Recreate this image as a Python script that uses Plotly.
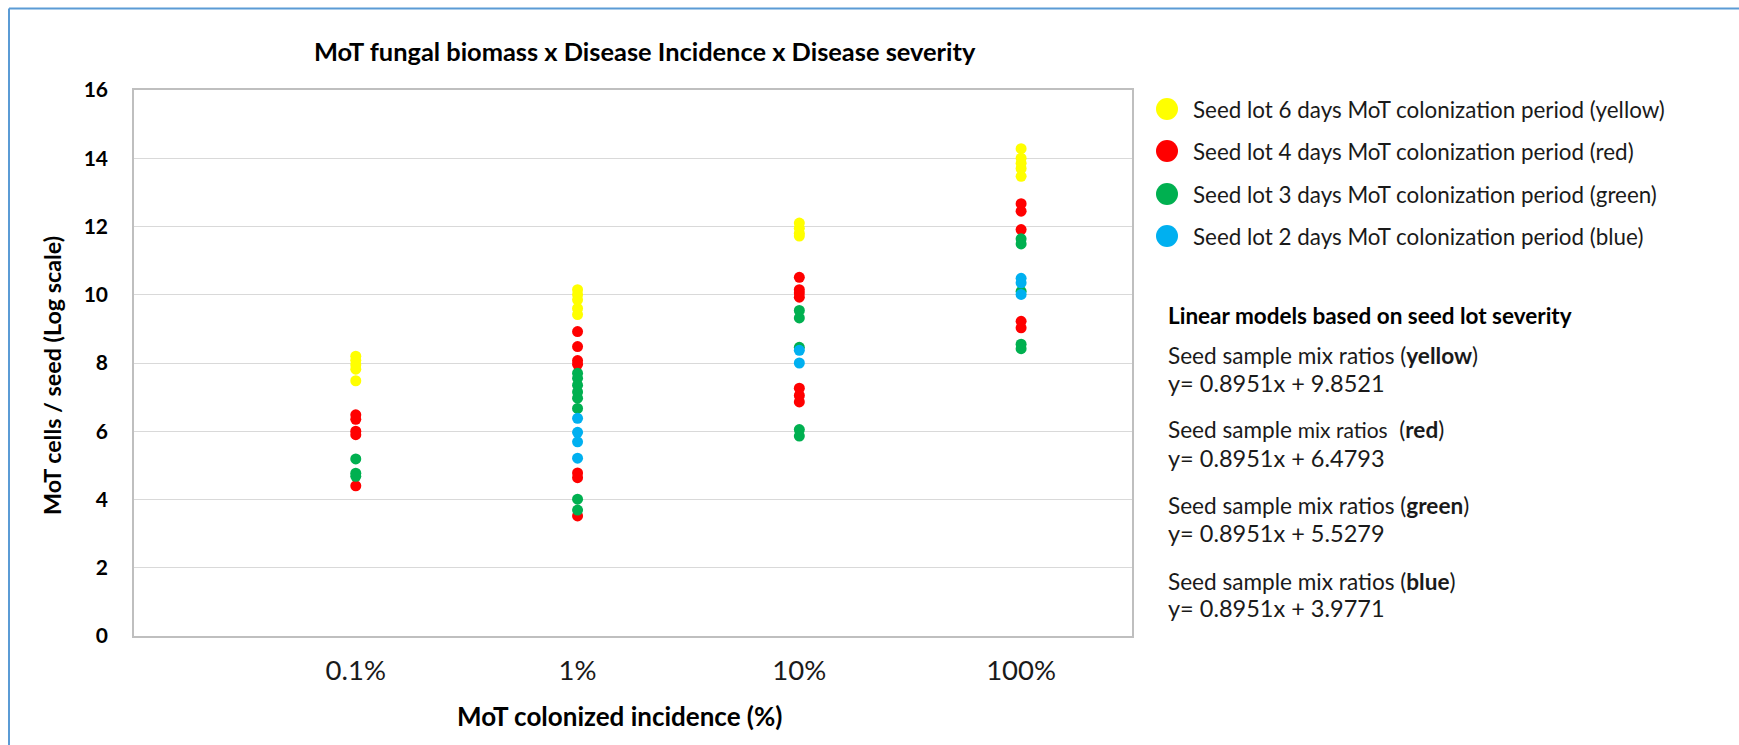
import plotly.graph_objects as go

# Incidence categories on the x axis (plotted at positions 1..4)
categories = ["0.1%", "1%", "10%", "100%"]
cat_pos = [1, 2, 3, 4]

# MoT cells / seed (log scale) per incidence level, one list per seed lot
yellow_vals = [
    [8.20, 8.08, 7.95, 7.82, 7.48],
    [10.15, 10.0, 9.85, 9.6, 9.42],
    [12.1, 11.95, 11.8, 11.72],
    [14.28, 14.0, 13.85, 13.7, 13.47],
]
red_vals = [
    [6.48, 6.35, 6.0, 5.9, 4.40],
    [8.92, 8.48, 8.07, 7.96, 4.78, 4.64, 3.52],
    [10.51, 10.15, 10.05, 9.93, 7.26, 7.05, 6.86],
    [12.67, 12.45, 11.91, 9.22, 9.03],
]
green_vals = [
    [5.19, 4.77, 4.68],
    [7.7, 7.55, 7.35, 7.15, 6.97, 6.67, 4.01, 3.69],
    [9.54, 9.32, 8.46, 6.05, 5.86],
    [11.64, 11.49, 10.1, 8.55, 8.42],
]
blue_vals = [
    [],
    [6.38, 5.97, 5.69, 5.21],
    [8.37, 8.0],
    [10.48, 10.35, 10.01],
]

series_names = [
    "Seed lot 6 days MoT colonization period (yellow)",
    "Seed lot 4 days MoT colonization period (red)",
    "Seed lot 3 days MoT colonization period (green)",
    "Seed lot 2 days MoT colonization period (blue)",
]
series_colors = ["#FFFF00", "#FF0000", "#00B050", "#00B0F0"]

model_titles = ["yellow", "red", "green", "blue"]
model_slope = "0.8951"
model_intercepts = ["9.8521", "6.4793", "5.5279", "3.9771"]

y_ticks = [0, 2, 4, 6, 8, 10, 12, 14, 16]

FONT = "Lato"
W, H = 1739, 745
L, R, T, B = 134, 1132, 90, 636


def px(x):
    return (x - L) / (R - L)


def py(y):
    return (B - y) / (B - T)


fig = go.Figure()

for vals, name, color in zip([yellow_vals, red_vals, green_vals, blue_vals],
                             series_names, series_colors):
    xs, ys = [], []
    for pos, group in zip(cat_pos, vals):
        xs += [pos] * len(group)
        ys += group
    fig.add_trace(go.Scatter(
        x=xs, y=ys, mode="markers", name=name, showlegend=False,
        marker=dict(color=color, size=11, line=dict(width=0)),
    ))

shapes = []
annotations = []

# chart frame (top and left edges)
frame = dict(color="#5B9BD5", width=2)
shapes.append(dict(type="line", xref="paper", yref="paper",
                   x0=px(9), x1=px(W + 5), y0=py(8.5), y1=py(8.5), line=frame))
shapes.append(dict(type="line", xref="paper", yref="paper",
                   x0=px(9), x1=px(9), y0=py(8.5), y1=py(H + 5), line=frame))

TXT = "#1a1a1a"

# legend entries
legend_y = [109, 151, 194, 236]
for name, color, yy in zip(series_names, series_colors, legend_y):
    shapes.append(dict(type="circle", xref="paper", yref="paper",
                       x0=px(1156), x1=px(1178), y0=py(yy - 11), y1=py(yy + 11),
                       fillcolor=color, line=dict(width=0)))
    annotations.append(dict(text=name, xref="paper", yref="paper",
                            x=px(1191), y=py(yy), xanchor="left", yanchor="middle",
                            showarrow=False, font=dict(family=FONT, size=22.4, color=TXT)))

# linear model block
annotations.append(dict(text="<b>Linear models based on seed lot severity</b>",
                        xref="paper", yref="paper", x=px(1166), y=py(315),
                        xanchor="left", yanchor="middle", showarrow=False,
                        font=dict(family=FONT, size=22.5, color="#000000")))
title_y = [355, 429, 505, 581]
eq_y = [383, 458, 533, 608]
for name, icpt, ty, ey in zip(model_titles, model_intercepts, title_y, eq_y):
    if name == "red":
        label = ('Seed sample <span style="font-size:21px">mix ratios</span>  (<b>%s</b>)' % name)
    else:
        label = "Seed sample mix ratios (<b>%s</b>)" % name
    annotations.append(dict(text=label, xref="paper", yref="paper",
                            x=px(1166), y=py(ty), xanchor="left", yanchor="middle",
                            showarrow=False, font=dict(family=FONT, size=22.6, color=TXT)))
    annotations.append(dict(text="y= %sx + %s" % (model_slope, icpt),
                            xref="paper", yref="paper",
                            x=px(1166), y=py(ey), xanchor="left", yanchor="middle",
                            showarrow=False, font=dict(family=FONT, size=23.5, color=TXT)))

# chart and axis titles
annotations.append(dict(text="<b>MoT fungal biomass x Disease Incidence x Disease severity</b>",
                        xref="paper", yref="paper", x=px(645), y=py(51),
                        xanchor="center", yanchor="middle", showarrow=False,
                        font=dict(family=FONT, size=25.4, color="#000000")))
annotations.append(dict(text="<b>MoT colonized incidence (%)</b>",
                        xref="paper", yref="paper", x=px(619), y=py(716),
                        xanchor="center", yanchor="middle", showarrow=False,
                        font=dict(family=FONT, size=26, color="#000000")))
annotations.append(dict(text="<b>MoT cells / seed (Log scale)</b>",
                        xref="paper", yref="paper", x=px(52), y=py(376),
                        xanchor="center", yanchor="middle", showarrow=False, textangle=-90,
                        font=dict(family=FONT, size=23.3, color="#000000")))

fig.update_layout(
    width=W, height=H,
    margin=dict(l=L, r=W - R, t=T, b=H - B),
    paper_bgcolor="white", plot_bgcolor="white",
    showlegend=False,
    shapes=shapes, annotations=annotations,
    xaxis=dict(range=[0, 4.5], tickvals=cat_pos, ticktext=categories,
               showgrid=False, zeroline=False, showline=True, mirror=True,
               linecolor="#BFBFBF", linewidth=1.5, ticks="",
               ticklabelstandoff=9,
               tickfont=dict(family=FONT, size=27.5, color=TXT)),
    yaxis=dict(range=[0, 16], tickvals=y_ticks,
               ticktext=["<b>%d</b>" % v for v in y_ticks],
               showgrid=True, gridcolor="#D9D9D9", gridwidth=1.2,
               zeroline=False, showline=True, mirror=True,
               linecolor="#BFBFBF", linewidth=1.5, ticks="",
               ticklabelstandoff=20,
               tickfont=dict(family=FONT, size=21, color="#000000")),
)

fig.write_html("out.html")
